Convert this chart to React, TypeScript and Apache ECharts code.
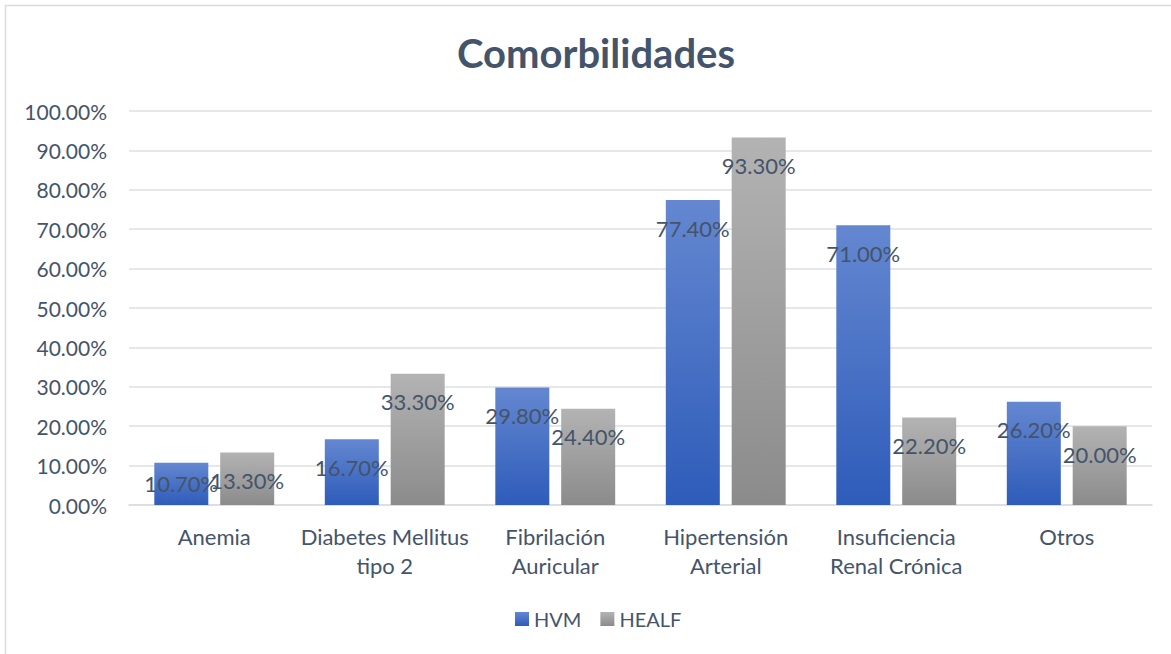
import React, { useEffect, useRef } from "react";
import * as echarts from "echarts";

const categories = [
  "Anemia",
  "Diabetes Mellitus\ntipo 2",
  "Fibrilación\nAuricular",
  "Hipertensión\nArterial",
  "Insuficiencia\nRenal Crónica",
  "Otros",
];
const hvmValues = [10.7, 16.7, 29.8, 77.4, 71.0, 26.2];
const healfValues = [13.3, 33.3, 24.4, 93.3, 22.2, 20.0];
const seriesNames = ["HVM", "HEALF"];

const TEXT = "#44546a";
const FONT = "Lato";

function grad(top: string, bottom: string) {
  return new echarts.graphic.LinearGradient(0, 0, 0, 1, [
    { offset: 0, color: top },
    { offset: 1, color: bottom },
  ]);
}

export default function App() {
  const ref = useRef<HTMLDivElement>(null);
  useEffect(() => {
    if (!ref.current) return;
    const chart = echarts.init(ref.current, null, { renderer: "svg" });
    const labelBase = {
      show: true,
      position: "insideTop" as const,
      distance: 17,
      color: TEXT,
      fontFamily: FONT,
      fontSize: 22,
      formatter: (p: any) => Number(p.value).toFixed(2) + "%",
    };
    const mk = (vals: number[]) =>
      vals.map((v) => (v < 12 ? { value: v, label: { position: "inside" } } : v));
    chart.setOption({
      animation: false,
      backgroundColor: "#ffffff",
      textStyle: { fontFamily: FONT },
      title: {
        text: "Comorbilidades",
        left: 452,
        top: 28,
        textStyle: { color: TEXT, fontSize: 40, fontWeight: "bold", fontFamily: FONT },
      },
      graphic: [
        {
          type: "rect",
          shape: { x: 5.5, y: 5.5, width: 1300, height: 800 },
          style: { fill: "none", stroke: "#d9dce1", lineWidth: 1.5 },
          silent: true,
          z: -1,
        },
      ],
      legend: {
        data: seriesNames,
        bottom: 20,
        left: 510,
        itemWidth: 14,
        itemHeight: 14,
        itemGap: 19,
        icon: "rect",
        textStyle: { color: TEXT, fontSize: 20, fontFamily: FONT },
      },
      grid: { left: 129, right: 19, top: 111, bottom: 149 },
      xAxis: {
        type: "category",
        data: categories,
        axisLine: { lineStyle: { color: "#d9dce1", width: 1.5 } },
        axisTick: { show: false },
        axisLabel: {
          color: TEXT,
          fontSize: 22,
          fontFamily: FONT,
          lineHeight: 29,
          margin: 17,
          interval: 0,
        },
      },
      yAxis: {
        type: "value",
        min: 0,
        max: 100,
        interval: 10,
        axisLine: { show: false },
        axisTick: { show: false },
        splitLine: { lineStyle: { color: "#dcdfe5", width: 1.5 } },
        axisLabel: {
          color: TEXT,
          fontSize: 21,
          fontFamily: FONT,
          margin: 22,
          formatter: (v: number) => v.toFixed(2) + "%",
        },
      },
      series: [
        {
          name: seriesNames[0],
          type: "bar",
          data: mk(hvmValues),
          barWidth: 54,
          barGap: "22%",
          itemStyle: { color: grad("#6487d0", "#2e5cba") },
          label: labelBase,
        },
        {
          name: seriesNames[1],
          type: "bar",
          data: mk(healfValues),
          barWidth: 54,
          itemStyle: { color: grad("#b3b3b3", "#8b8b8b") },
          label: labelBase,
        },
      ],
    });
    return () => chart.dispose();
  }, []);
  return (
    <div
      ref={ref}
      style={{ position: "fixed", left: 0, top: 0, width: 1171, height: 654 }}
    />
  );
}
